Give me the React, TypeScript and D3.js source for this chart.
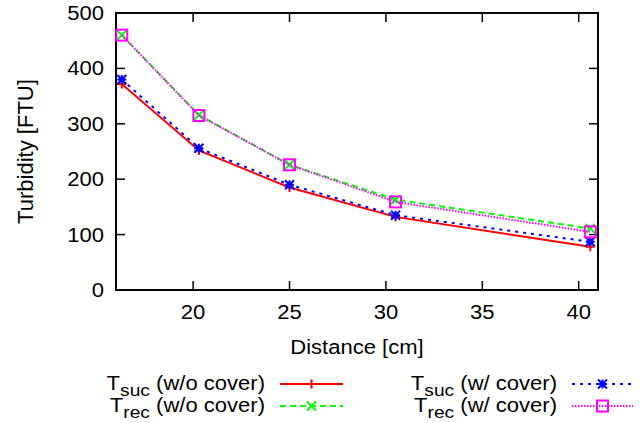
import React from "react";
import * as d3 from "d3";

const distances = [16.3, 20.3, 25, 30.5, 40.6];
const sucNoCover = [372, 252, 185, 132, 78];
const recNoCover = [460, 316, 226, 163, 111];
const sucCover = [380, 256, 190, 135, 87];
const recCover = [460, 315, 226, 159, 105];
const xTicks = [20, 25, 30, 35, 40];
const yTicks = [0, 100, 200, 300, 400, 500];

const W = 644;
const H = 423;
const m = { left: 116, right: 598, top: 13, bottom: 290 };
const FS = 19.5;
const SX = 1.13;
const FONT = "'Liberation Sans', Arial, sans-serif";

type Series = {
  values: number[];
  color: string;
  dash: string | null;
  marker: "plus" | "cross" | "star" | "square";
};

const series: Series[] = [
  { values: sucNoCover, color: "#ff0000", dash: null, marker: "plus" },
  { values: recNoCover, color: "#00ff00", dash: "6,4", marker: "cross" },
  { values: sucCover, color: "#0000ff", dash: "3,5", marker: "star" },
  { values: recCover, color: "#ff00ff", dash: "1.5,1.5", marker: "square" },
];

function Marker({ kind, x, y, color }: { kind: string; x: number; y: number; color: string }) {
  const s = 4.5;
  const sw = 2;
  if (kind === "square") {
    return <rect x={x - 5.5} y={y - 5.5} width={11} height={11} fill="none" stroke={color} strokeWidth={sw} />;
  }
  const plus = `M${x - s},${y}H${x + s}M${x},${y - s}V${y + s}`;
  const cross = `M${x - s},${y - s}L${x + s},${y + s}M${x - s},${y + s}L${x + s},${y - s}`;
  const d = kind === "plus" ? plus : kind === "cross" ? cross : plus + cross;
  return <path d={d} stroke={color} strokeWidth={sw} fill="none" />;
}

function Txt({ x, y, anchor = "start", children, rotate = 0 }: any) {
  return (
    <text
      transform={`translate(${x},${y}) rotate(${rotate}) scale(${SX},1)`}
      textAnchor={anchor}
      fontFamily={FONT}
      fontSize={FS}
      fill="#000"
    >
      {children}
    </text>
  );
}

function LegendLabel({ x, y, sub, rest }: { x: number; y: number; sub: string; rest: string }) {
  return (
    <text transform={`translate(${x},${y}) scale(${SX},1)`} textAnchor="end" fontFamily={FONT} fontSize={FS} fill="#000">
      T
      <tspan fontSize={17} dy={6}>{sub}</tspan>
      <tspan dy={-6}>{" " + rest}</tspan>
    </text>
  );
}

export default function App() {
  const x = d3.scaleLinear().domain([16, 41]).range([m.left, m.right]);
  const y = d3.scaleLinear().domain([0, 500]).range([m.bottom, m.top]);
  const line = d3
    .line<number>()
    .x((_, i) => x(distances[i]))
    .y((v) => y(v));

  const legend = [
    { s: series[0], lx: 265, y: 390, sub: "suc", rest: "(w/o cover)", x1: 280, x2: 343 },
    { s: series[1], lx: 265, y: 412, sub: "rec", rest: "(w/o cover)", x1: 280, x2: 343 },
    { s: series[2], lx: 557, y: 390, sub: "suc", rest: "(w/ cover)", x1: 572, x2: 633 },
    { s: series[3], lx: 557, y: 412, sub: "rec", rest: "(w/ cover)", x1: 572, x2: 633 },
  ];

  return (
    <svg width={W} height={H} style={{ position: "absolute", left: 0, top: 0, background: "#fff" }}>
      {/* ticks, inward and mirrored */}
      {yTicks.map((t) => (
        <g key={"y" + t}>
          <line x1={m.left} x2={m.left + 9} y1={y(t)} y2={y(t)} stroke="#000" strokeWidth={1.5} />
          <line x1={m.right} x2={m.right - 9} y1={y(t)} y2={y(t)} stroke="#000" strokeWidth={1.5} />
          <Txt x={104} y={y(t) + 7} anchor="end">{t}</Txt>
        </g>
      ))}
      {xTicks.map((t) => (
        <g key={"x" + t}>
          <line x1={x(t)} x2={x(t)} y1={m.bottom} y2={m.bottom - 9} stroke="#000" strokeWidth={1.5} />
          <line x1={x(t)} x2={x(t)} y1={m.top} y2={m.top + 9} stroke="#000" strokeWidth={1.5} />
          <Txt x={x(t)} y={319} anchor="middle">{t}</Txt>
        </g>
      ))}
      <rect x={m.left} y={m.top} width={m.right - m.left} height={m.bottom - m.top} fill="none" stroke="#000" strokeWidth={2} />

      <Txt x={357} y={354} anchor="middle">Distance [cm]</Txt>
      <text
        transform={`translate(33,${(m.top + m.bottom) / 2}) rotate(-90)`}
        textAnchor="middle"
        fontFamily={FONT}
        fontSize={FS * SX}
        fill="#000"
      >
        Turbidity [FTU]
      </text>

      {series.map((s, i) => (
        <g key={"s" + i}>
          <path d={line(s.values) || ""} fill="none" stroke={s.color} strokeWidth={2} strokeDasharray={s.dash || undefined} />
          {s.values.map((v, j) => (
            <Marker key={j} kind={s.marker} x={x(distances[j])} y={y(v)} color={s.color} />
          ))}
        </g>
      ))}

      {legend.map((l, i) => (
        <g key={"l" + i}>
          <LegendLabel x={l.lx} y={l.y} sub={l.sub} rest={l.rest} />
          <line x1={l.x1} x2={l.x2} y1={l.y - 6} y2={l.y - 6} stroke={l.s.color} strokeWidth={2} strokeDasharray={l.s.dash || undefined} />
          <Marker kind={l.s.marker} x={(l.x1 + l.x2) / 2} y={l.y - 6} color={l.s.color} />
        </g>
      ))}
    </svg>
  );
}
